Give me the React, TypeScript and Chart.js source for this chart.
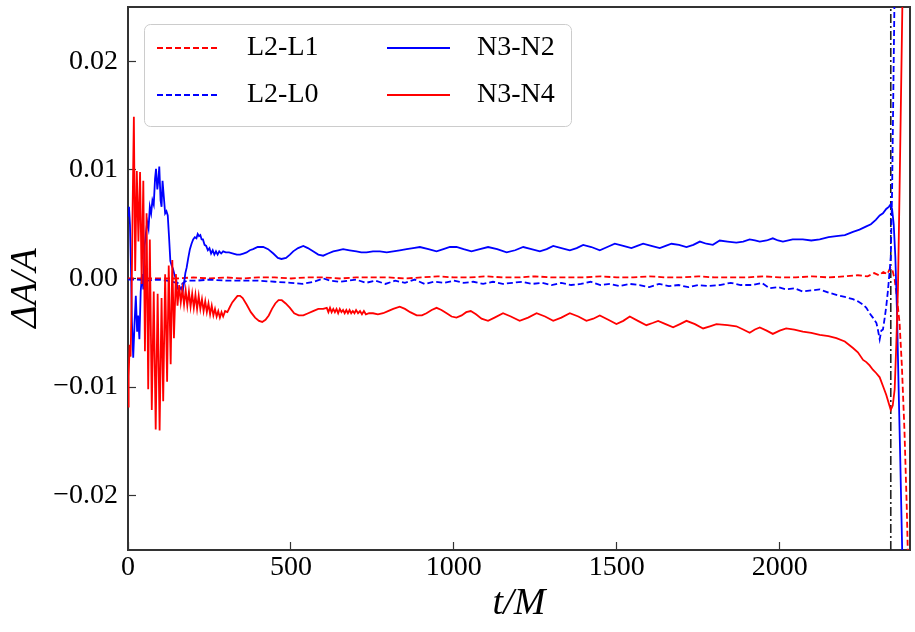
import React, { useEffect, useRef } from 'react';
import { Chart, registerables } from 'chart.js';

Chart.register(...registerables);

// ---- axes ----
const X_MIN = 0;
const X_MAX = 2400;
const Y_MIN = -0.025;
const Y_MAX = 0.025;
const X_TICKS = [0, 500, 1000, 1500, 2000];
const Y_TICKS = [-0.02, -0.01, 0, 0.01, 0.02];
const MERGER_T = 2341;

// ---- L2-L1 (red dashed) ----
const l2l1T = [0, 50, 100, 150, 200, 250, 300, 350, 400, 450, 500, 550, 600, 650, 700, 750, 800, 850, 900, 950, 1000, 1050, 1100, 1150, 1200, 1250, 1300, 1350, 1400, 1450, 1500, 1550, 1600, 1650, 1700, 1750, 1800, 1850, 1900, 1950, 2000, 2050, 2100, 2150, 2200, 2240, 2270, 2290, 2305, 2318, 2330, 2340, 2346, 2353, 2360, 2368, 2375, 2383, 2390, 2397];
const l2l1V = [0.0, 0.0, 0.0, 0.0, 0.0001, 0.0, 0.0001, 0.0, 0.0001, 0.0001, 0.0, 0.0001, 0.0001, 0.0, 0.0001, 0.0001, 0.0001, 0.0, 0.0001, 0.0002, 0.0001, 0.0001, 0.0002, 0.0001, 0.0001, 0.0002, 0.0001, 0.0001, 0.0001, 0.0002, 0.0001, 0.0001, 0.0002, 0.0001, 0.0001, 0.0002, 0.0001, 0.0001, 0.0001, 0.0002, 0.0001, 0.0001, 0.0002, 0.0001, 0.0002, 0.0003, 0.0002, 0.0005, 0.0003, 0.0006, 0.0004, 0.001, 0.0008, -0.0001, -0.0018, -0.0041, -0.008, -0.014, -0.021, -0.03];

// ---- L2-L0 (blue dashed) ----
const l2l0T = [0, 30, 60, 90, 120, 150, 165, 180, 210, 250, 300, 350, 400, 450, 500, 535, 570, 600, 620, 650, 700, 730, 760, 790, 820, 850, 880, 910, 940, 970, 1000, 1030, 1060, 1090, 1120, 1150, 1180, 1210, 1240, 1270, 1300, 1330, 1360, 1390, 1420, 1450, 1480, 1510, 1540, 1570, 1600, 1630, 1660, 1690, 1720, 1750, 1780, 1816, 1850, 1880, 1918, 1945, 1969, 1995, 2020, 2045, 2071, 2097, 2123, 2150, 2174, 2200, 2225, 2240, 2256, 2266, 2276, 2286, 2297, 2302, 2307, 2312, 2317, 2322, 2327, 2332, 2337, 2341, 2345, 2350, 2355];
const l2l0V = [-0.0001, -0.0001, -0.0002, -0.0001, -0.0002, -0.0004, -0.0005, -0.0002, -0.0002, -0.0001, -0.0002, -0.0002, -0.0002, -0.0003, -0.0004, -0.0005, -0.0003, 0.0, -0.0002, -0.0003, -0.0001, -0.0004, -0.0002, -0.0005, -0.0002, -0.0004, -0.0001, -0.0005, -0.0003, -0.0004, -0.0002, -0.0004, -0.0003, -0.0005, -0.0003, -0.0005, -0.0004, -0.0003, -0.0005, -0.0004, -0.0006, -0.0004, -0.0006, -0.0005, -0.0003, -0.0006, -0.0005, -0.0007, -0.0005, -0.0006, -0.0008, -0.0005, -0.0007, -0.0006, -0.0008, -0.0006, -0.0007, -0.0006, -0.0004, -0.0006, -0.0006, -0.0004, -0.0009, -0.0008, -0.001, -0.0009, -0.0012, -0.0011, -0.001, -0.0013, -0.0015, -0.0017, -0.0019, -0.0021, -0.0024, -0.0027, -0.0032, -0.0036, -0.0041, -0.0048, -0.0056, -0.0048, -0.0047, -0.0037, -0.0026, -0.0012, 0.0005, 0.002, 0.008, 0.02, 0.032];

// ---- N3-N2 (blue solid) ----
const n3n2T = [0, 3, 6, 9, 12, 16, 20, 24, 28, 31, 35, 39, 43, 47, 51, 55, 59, 63, 67, 71, 75, 79, 83, 86, 90, 93, 96, 100, 103, 106, 110, 114, 118, 122, 126, 130, 134, 138, 143, 147, 152, 157, 163, 168, 172, 176, 180, 185, 190, 195, 200, 205, 210, 214, 218, 222, 226, 230, 235, 240, 245, 250, 255, 260, 265, 270, 275, 280, 286, 292, 300, 310, 323, 334, 344, 354, 364, 374, 384, 398, 415, 430, 446, 460, 471, 485, 497, 507, 522, 538, 552, 568, 584, 599, 614, 630, 645, 660, 680, 701, 716, 732, 752, 773, 794, 814, 834, 855, 875, 896, 922, 947, 968, 988, 1008, 1030, 1054, 1080, 1105, 1133, 1162, 1188, 1213, 1238, 1264, 1285, 1305, 1330, 1356, 1377, 1397, 1422, 1448, 1471, 1494, 1520, 1545, 1563, 1581, 1606, 1632, 1650, 1668, 1691, 1714, 1735, 1755, 1775, 1795, 1816, 1840, 1867, 1888, 1908, 1924, 1939, 1960, 1979, 1995, 2010, 2040, 2071, 2097, 2123, 2150, 2174, 2200, 2225, 2245, 2266, 2280, 2295, 2307, 2317, 2327, 2335, 2340, 2345, 2350, 2355, 2360, 2365, 2370, 2376, 2382];
const n3n2V = [0.0058, 0.0066, 0.005, 0.0012, -0.004, -0.0073, -0.0042, -0.0016, -0.0049, -0.0034, -0.0056, -0.0012, 0.0004, -0.001, 0.003, 0.0042, 0.0052, 0.0046, 0.0066, 0.006, 0.0072, 0.0068, 0.0092, 0.0101, 0.0082, 0.009, 0.0103, 0.0072, 0.0066, 0.009, 0.0075, 0.006, 0.0062, 0.0058, 0.0038, 0.0016, 0.0012, 0.0009, 0.0003, 0.0, -0.0009, -0.0011, -0.0008, -0.0012, -0.0004, 0.0005, 0.001, 0.0019, 0.0027, 0.0032, 0.0036, 0.0038, 0.0037, 0.0041, 0.0039, 0.004, 0.0036, 0.0036, 0.0031, 0.003, 0.0026, 0.0028, 0.0023, 0.0026, 0.0022, 0.0025, 0.0022, 0.0025, 0.0023, 0.0025, 0.0024, 0.0024, 0.0023, 0.0022, 0.0022, 0.0023, 0.0024, 0.0026, 0.0027, 0.0029, 0.0029, 0.0027, 0.0023, 0.0019, 0.0018, 0.0019, 0.0022, 0.0025, 0.0028, 0.003, 0.0028, 0.0025, 0.0022, 0.0021, 0.0023, 0.0025, 0.0026, 0.0027, 0.0026, 0.0025, 0.0024, 0.0024, 0.0025, 0.0025, 0.0024, 0.0025, 0.0026, 0.0027, 0.0028, 0.0029, 0.0027, 0.0025, 0.0027, 0.0029, 0.0029, 0.0027, 0.0025, 0.0027, 0.0029, 0.0027, 0.0024, 0.0026, 0.0029, 0.0027, 0.0025, 0.0027, 0.003, 0.0028, 0.0026, 0.0028, 0.0031, 0.0029, 0.0026, 0.0029, 0.0032, 0.003, 0.0028, 0.003, 0.0032, 0.003, 0.0028, 0.003, 0.0032, 0.0031, 0.0029, 0.0031, 0.0034, 0.0032, 0.0031, 0.0035, 0.0034, 0.0033, 0.0034, 0.0036, 0.0035, 0.0034, 0.0035, 0.0037, 0.0035, 0.0034, 0.0036, 0.0036, 0.0035, 0.0036, 0.0038, 0.0039, 0.004, 0.0043, 0.0045, 0.0048, 0.005, 0.0054, 0.0058, 0.006, 0.0064, 0.0066, 0.0068, 0.0064, 0.005, 0.002, -0.003, -0.01, -0.0165, -0.025, -0.034];

// ---- N3-N4 (red solid) ----
const n3n4T = [0, 2, 5, 8, 11, 14, 18, 22, 27, 32, 37, 42, 47, 52, 57, 62, 67, 73, 79, 85, 91, 97, 103, 108, 114, 120, 125, 131, 136, 141, 147, 152, 157, 162, 167, 172, 177, 182, 187, 192, 197, 202, 207, 212, 217, 222, 227, 232, 237, 242, 247, 252, 257, 262, 267, 272, 277, 282, 287, 292, 298, 305, 313, 320, 328, 336, 344, 352, 364, 377, 390, 402, 412, 422, 432, 442, 452, 462, 472, 484, 497, 510, 524, 538, 553, 568, 584, 599, 610, 615, 620, 625, 630, 635, 640, 645, 650, 655, 660, 665, 670, 675, 680, 685, 690, 695, 700, 706, 712, 718, 724, 730, 740, 752, 767, 783, 798, 814, 834, 850, 866, 886, 902, 916, 932, 947, 962, 978, 993, 1008, 1024, 1038, 1052, 1068, 1085, 1105, 1125, 1151, 1175, 1202, 1228, 1254, 1280, 1305, 1330, 1356, 1382, 1407, 1428, 1448, 1474, 1499, 1520, 1540, 1565, 1591, 1610, 1627, 1650, 1673, 1694, 1714, 1740, 1765, 1786, 1806, 1840, 1867, 1888, 1908, 1924, 1939, 1960, 1979, 2000, 2020, 2045, 2071, 2097, 2123, 2150, 2174, 2200, 2225, 2240, 2256, 2266, 2276, 2286, 2296, 2307, 2317, 2327, 2335, 2341, 2347, 2353, 2358, 2363, 2368, 2373, 2378, 2385];
const n3n4V = [-0.0118, -0.009, -0.0061, -0.0072, -0.002, 0.006, 0.0149, 0.0007, 0.0099, 0.0034, 0.0098, -0.0005, 0.009, -0.0067, 0.006, -0.0102, 0.0036, -0.0121, -0.0012, -0.0139, -0.0014, -0.014, -0.0018, -0.0113, 0.0004, -0.0095, 0.0012, -0.0079, 0.0017, -0.0055, 0.0004, -0.0025, -0.0006, -0.0022, -0.001, -0.0024, -0.0011, -0.0025, -0.0012, -0.0026, -0.0014, -0.0027, -0.0015, -0.0028, -0.0016, -0.0028, -0.0019, -0.003, -0.0021, -0.0031, -0.0023, -0.0033, -0.0025, -0.0034, -0.0028, -0.0035, -0.003, -0.0036, -0.0031, -0.0035, -0.003, -0.0031, -0.0026, -0.0022, -0.0019, -0.0016, -0.0016, -0.0018, -0.0024, -0.0031, -0.0036, -0.0039, -0.004, -0.0038, -0.0034, -0.0028, -0.0023, -0.002, -0.002, -0.0023, -0.0027, -0.0032, -0.0034, -0.0034, -0.0032, -0.003, -0.0028, -0.0028, -0.0027, -0.0031, -0.0027, -0.0031, -0.0028, -0.0031, -0.0028, -0.0032, -0.0028, -0.0031, -0.0029, -0.0032, -0.0029, -0.0032, -0.0029, -0.0032, -0.003, -0.0032, -0.0029, -0.0032, -0.003, -0.0033, -0.003, -0.0033, -0.0032, -0.0032, -0.0033, -0.0032, -0.003, -0.0028, -0.0026, -0.0028, -0.0031, -0.0034, -0.0034, -0.0032, -0.0029, -0.0027, -0.0029, -0.0032, -0.0035, -0.0036, -0.0034, -0.0031, -0.003, -0.0033, -0.0037, -0.0039, -0.0036, -0.0032, -0.0035, -0.0039, -0.0036, -0.0032, -0.0035, -0.0039, -0.0036, -0.0032, -0.0035, -0.0039, -0.0037, -0.0034, -0.0038, -0.0042, -0.0039, -0.0035, -0.0039, -0.0043, -0.0041, -0.0039, -0.0042, -0.0045, -0.0042, -0.0039, -0.0042, -0.0046, -0.0044, -0.0042, -0.0043, -0.0044, -0.0047, -0.005, -0.0047, -0.0045, -0.0048, -0.0051, -0.0048, -0.0046, -0.0047, -0.0049, -0.005, -0.0052, -0.0053, -0.0055, -0.0058, -0.0064, -0.0068, -0.0075, -0.0077, -0.008, -0.0084, -0.0087, -0.0091, -0.0099, -0.0107, -0.0115, -0.0121, -0.0117, -0.0102, -0.006, -0.001, 0.0082, 0.018, 0.028, 0.04];

const toXY = (t: number[], v: number[]) => t.map((x, i) => ({ x, y: v[i] }));

const AXIS_COLOR = '#333333';
const FONT = '"Liberation Serif", "Times New Roman", serif';
const LINE_W = 1.8;
const DASH = [6, 3];

const boxLegend = {
  id: 'boxLegend',
  afterDatasetsDraw(chart: any) {
    const ctx = chart.ctx as CanvasRenderingContext2D;
    const items = chart.data.datasets.filter((d: any) => !d.hideInLegend);
    const colLine = [157, 387];
    const colText = [247, 477];
    const rowY = [48, 95];
    ctx.save();
    ctx.beginPath();
    (ctx as any).roundRect(144.5, 24.5, 427, 102, 6);
    ctx.fillStyle = 'rgba(255,255,255,0.8)';
    ctx.fill();
    ctx.lineWidth = 1;
    ctx.strokeStyle = '#cccccc';
    ctx.stroke();
    items.forEach((d: any, i: number) => {
      const col = Math.floor(i / 2);
      const row = i % 2;
      const y = rowY[row];
      ctx.beginPath();
      ctx.setLineDash(d.borderDash || []);
      ctx.strokeStyle = d.borderColor;
      ctx.lineWidth = d.borderWidth;
      ctx.moveTo(colLine[col], y);
      ctx.lineTo(colLine[col] + 63, y);
      ctx.stroke();
      ctx.setLineDash([]);
      ctx.fillStyle = '#000';
      ctx.font = `28px ${FONT}`;
      ctx.textAlign = 'left';
      ctx.textBaseline = 'middle';
      ctx.fillText(d.label, colText[col], y);
    });
    ctx.restore();
  },
};

const fmtY = (v: number) => {
  const s = Math.abs(v).toFixed(2);
  return v < -1e-9 ? '\u2212' + s : s;
};

export default function App() {
  const ref = useRef<HTMLCanvasElement | null>(null);
  useEffect(() => {
    if (!ref.current) return;
    Chart.defaults.font.family = FONT;
    const chart = new Chart(ref.current, {
      type: 'line',
      data: {
        datasets: [
          { label: 'L2-L1', data: toXY(l2l1T, l2l1V), borderColor: '#ff0000', borderWidth: LINE_W, borderDash: DASH, pointRadius: 0, order: 3 },
          { label: 'L2-L0', data: toXY(l2l0T, l2l0V), borderColor: '#0000ff', borderWidth: LINE_W, borderDash: DASH, pointRadius: 0, order: 2 },
          { label: 'N3-N2', data: toXY(n3n2T, n3n2V), borderColor: '#0000ff', borderWidth: LINE_W, pointRadius: 0, order: 1 },
          { label: 'N3-N4', data: toXY(n3n4T, n3n4V), borderColor: '#ff0000', borderWidth: LINE_W, pointRadius: 0, order: 0 },
          { label: 'merger', hideInLegend: true, data: [{ x: MERGER_T, y: Y_MIN }, { x: MERGER_T, y: Y_MAX }], borderColor: '#222222', borderWidth: 1.6, borderDash: [9, 3, 2, 3], pointRadius: 0, order: 4 } as any,
        ],
      },
      options: {
        responsive: false,
        animation: false,
        devicePixelRatio: 1,
        layout: { padding: { left: 0, right: 5, top: 7, bottom: 0 } },
        plugins: { legend: { display: false }, tooltip: { enabled: false } },
        scales: {
          x: {
            type: 'linear',
            position: 'bottom',
            min: X_MIN,
            max: X_MAX,
            afterBuildTicks: (s: any) => { s.ticks = X_TICKS.map((value) => ({ value })); },
            afterFit: (s: any) => { s.height = 82; s.paddingLeft = 0; s.paddingRight = 0; },
            ticks: { color: '#000', font: { size: 28 }, padding: 9, maxRotation: 0, autoSkip: false, callback: (v: any) => String(v) },
            grid: { display: true, drawOnChartArea: false, drawTicks: true, tickLength: -8, tickColor: AXIS_COLOR, tickWidth: 1.2 },
            border: { display: true, color: AXIS_COLOR, width: 2 },
            title: { display: true, text: 't/M', color: '#000', font: { size: 38, style: 'italic' }, padding: { top: 0, bottom: 5 } },
          },
          y: {
            type: 'linear',
            position: 'left',
            min: Y_MIN,
            max: Y_MAX,
            afterBuildTicks: (s: any) => { s.ticks = Y_TICKS.map((value) => ({ value })); },
            afterFit: (s: any) => { s.width = 128; s.paddingTop = 0; s.paddingBottom = 0; },
            ticks: { color: '#000', font: { size: 28 }, padding: 18, autoSkip: false, callback: (v: any) => fmtY(Number(v)) },
            grid: { display: true, drawOnChartArea: false, drawTicks: true, tickLength: -8, tickColor: AXIS_COLOR, tickWidth: 1.2 },
            border: { display: true, color: AXIS_COLOR, width: 2 },
            title: { display: true, text: '\u0394A/A\u2002', color: '#000', font: { size: 38, style: 'italic' }, padding: { top: 3, bottom: 0 } },
          },
          x2: {
            type: 'linear',
            position: 'top',
            min: X_MIN,
            max: X_MAX,
            afterFit: (s: any) => { s.height = 0; s.paddingLeft = 0; s.paddingRight = 0; },
            ticks: { display: false },
            grid: { display: false },
            border: { display: true, color: AXIS_COLOR, width: 2 },
          },
          y2: {
            type: 'linear',
            position: 'right',
            min: Y_MIN,
            max: Y_MAX,
            afterFit: (s: any) => { s.width = 0; s.paddingTop = 0; s.paddingBottom = 0; },
            ticks: { display: false },
            grid: { display: false },
            border: { display: true, color: AXIS_COLOR, width: 2 },
          },
        },
      } as any,
      plugins: [boxLegend],
    });
    return () => chart.destroy();
  }, []);
  return (
    <canvas
      ref={ref}
      width={915}
      height={632}
      style={{ position: 'fixed', left: 0, top: 0, width: 915, height: 632, background: '#fff' }}
    />
  );
}
